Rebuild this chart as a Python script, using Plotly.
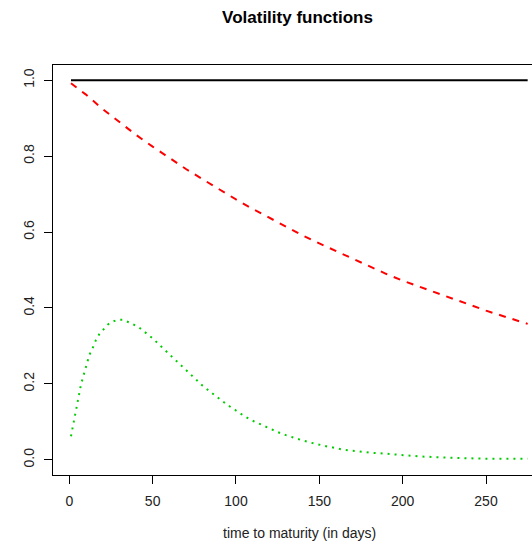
import plotly.graph_objects as go

# Time to maturity in days (1 .. 275)
flat_days = [1, 275]
flat_vol = [1.0, 1.0]

decay_days = [1, 10, 20, 30, 40, 50, 60, 70, 80, 90, 100, 110, 120, 130, 140,
              150, 160, 170, 180, 190, 200, 210, 220, 230, 240, 250, 260, 270, 275]
decay_vol = [0.992, 0.962, 0.924, 0.890, 0.856, 0.825, 0.795, 0.766, 0.739, 0.712,
             0.686, 0.661, 0.637, 0.613, 0.591, 0.570, 0.550, 0.529, 0.510, 0.490,
             0.472, 0.456, 0.440, 0.424, 0.408, 0.393, 0.379, 0.365, 0.358]

hump_days = [1, 2, 3, 4, 5, 6, 7, 8, 10, 12, 14, 16, 18, 20, 23, 26, 29, 32, 35, 38,
             42, 46, 50, 55, 60, 65, 70, 75, 80, 85, 90, 95, 100, 105, 110, 115, 120,
             125, 130, 135, 140, 145, 150, 155, 160, 165, 170, 175, 180, 190, 200,
             210, 220, 230, 240, 250, 260, 275]
hump_vol = [0.062, 0.085, 0.112, 0.137, 0.162, 0.183, 0.198, 0.214, 0.245, 0.276,
            0.294, 0.316, 0.331, 0.341, 0.356, 0.364, 0.369, 0.369, 0.364, 0.358,
            0.348, 0.334, 0.320, 0.299, 0.278, 0.257, 0.235, 0.215, 0.195, 0.178,
            0.160, 0.144, 0.130, 0.115, 0.103, 0.093, 0.081, 0.073, 0.065, 0.057,
            0.051, 0.045, 0.039, 0.035, 0.031, 0.026, 0.024, 0.021, 0.019, 0.016,
            0.012, 0.009, 0.007, 0.005, 0.004, 0.003, 0.003, 0.003]

x_ticks = [0, 50, 100, 150, 200, 250]
y_ticks = [0.0, 0.2, 0.4, 0.6, 0.8, 1.0]
y_tick_text = ["0.0", "0.2", "0.4", "0.6", "0.8", "1.0"]

FONT = "Liberation Sans, Arial, Helvetica, sans-serif"
TEXT = "#222"

fig = go.Figure()
fig.add_trace(go.Scatter(x=flat_days, y=flat_vol, mode="lines",
                         line=dict(color="black", width=2)))
fig.add_trace(go.Scatter(x=decay_days, y=decay_vol, mode="lines",
                         line=dict(color="#FF0000", width=2, dash="7px,7px")))
fig.add_trace(go.Scatter(x=hump_days, y=hump_vol, mode="lines",
                         line=dict(color="#00CD00", width=2, dash="2px,5px")))

fig.update_layout(
    width=532, height=543,
    margin=dict(l=53, r=0, t=65, b=68),
    paper_bgcolor="white", plot_bgcolor="white",
    showlegend=False,
    font=dict(family=FONT, size=14, color=TEXT),
    title=dict(text="Volatility functions", xref="container", yref="container",
               x=297.5 / 532, y=1 - 17 / 543, xanchor="center", yanchor="middle",
               font=dict(family=FONT, size=17, color="black", weight=700)),
)

# x-axis label, centred on the full plotting region (which runs past the right edge)
fig.add_annotation(text="time to maturity (in days)", xref="paper", yref="paper",
                   x=0.5146, y=-0.1415, xanchor="center", yanchor="middle",
                   showarrow=False, font=dict(family=FONT, size=14, color=TEXT))

fig.update_xaxes(
    range=[-9.78, 277.6], tickvals=x_ticks, ticks="outside", ticklen=8,
    tickwidth=1, tickcolor="black", showgrid=False, zeroline=False,
    showline=True, linecolor="black", linewidth=1, mirror=True,
    tickfont=dict(family=FONT, size=14, color=TEXT),
    ticklabelstandoff=5,
)
fig.update_yaxes(
    range=[-0.04, 1.04], tickvals=y_ticks, ticktext=y_tick_text, tickangle=-90,
    ticks="outside", ticklen=8, tickwidth=1, tickcolor="black",
    showgrid=False, zeroline=False, showline=True, linecolor="black",
    linewidth=1, tickfont=dict(family=FONT, size=14, color=TEXT),
    ticklabelstandoff=4,
)

fig.write_html("out.html")
